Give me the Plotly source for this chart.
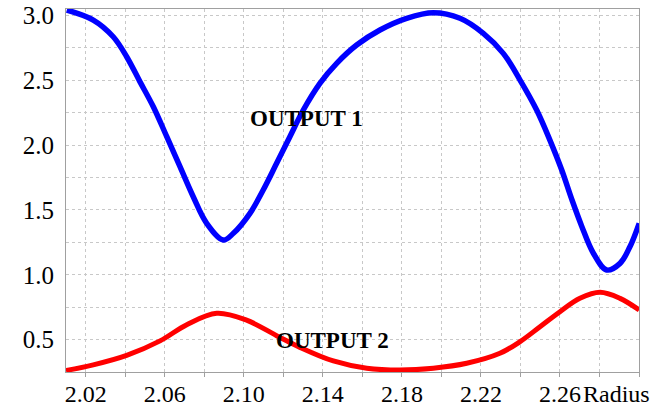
import plotly.graph_objects as go

# Data
radius_out1 = [2.0104, 2.0238, 2.0339, 2.0407, 2.0474, 2.0542, 2.0610, 2.0677, 2.0744, 2.0812,
               2.0896, 2.0947, 2.1031, 2.1098, 2.1166, 2.1233, 2.1301, 2.1385, 2.1470, 2.1571,
               2.1689, 2.1824, 2.1959, 2.2094, 2.2212, 2.2313, 2.2398, 2.2482, 2.2549, 2.2609,
               2.2659, 2.2710, 2.2769, 2.2836, 2.2904, 2.2954, 2.3001]
output1 = [3.042, 2.965, 2.836, 2.682, 2.490, 2.296, 2.065, 1.834, 1.602, 1.397,
           1.268, 1.320, 1.474, 1.654, 1.860, 2.065, 2.271, 2.477, 2.631, 2.772,
           2.888, 2.978, 3.021, 2.978, 2.862, 2.708, 2.502, 2.271, 2.039, 1.808,
           1.585, 1.375, 1.166, 1.037, 1.088, 1.216, 1.397]

radius_out2 = [2.0100, 2.0238, 2.0407, 2.0576, 2.0711, 2.0863, 2.1014, 2.1166, 2.1284, 2.1453,
               2.1622, 2.1790, 2.1959, 2.2128, 2.2296, 2.2398, 2.2499, 2.2600, 2.2701, 2.2803,
               2.2904, 2.3001]
output2 = [0.262, 0.305, 0.378, 0.490, 0.615, 0.703, 0.650, 0.530, 0.440, 0.335,
           0.279, 0.265, 0.279, 0.317, 0.394, 0.484, 0.599, 0.715, 0.818, 0.865,
           0.818, 0.728]

x_tick_vals = [2.02, 2.06, 2.10, 2.14, 2.18, 2.22, 2.26]
x_tick_text = ["2.02", "2.06", "2.10", "2.14", "2.18", "2.22", "2.26"]
y_tick_vals = [0.5, 1.0, 1.5, 2.0, 2.5, 3.0]
y_tick_text = ["0.5", "1.0", "1.5", "2.0", "2.5", "3.0"]

FONT = "Liberation Serif"
GRID = "#c8c8c8"

fig = go.Figure()
fig.add_trace(go.Scatter(x=radius_out1, y=output1, mode="lines",
                         line=dict(color="#0000ff", width=5.5, shape="spline", smoothing=1.0),
                         showlegend=False, hoverinfo="skip"))
fig.add_trace(go.Scatter(x=radius_out2, y=output2, mode="lines",
                         line=dict(color="#ff0000", width=5, shape="spline", smoothing=1.0),
                         showlegend=False, hoverinfo="skip"))

fig.update_layout(
    width=655, height=408,
    margin=dict(l=66, r=16, t=9, b=36, autoexpand=False),
    paper_bgcolor="white", plot_bgcolor="white",
    font=dict(family=FONT, size=25, color="black"),
    xaxis=dict(range=[2.01, 2.30], tickvals=x_tick_vals, ticktext=x_tick_text,
               automargin=False, tickfont=dict(family=FONT, size=24, color="black"),
               showgrid=True, gridcolor=GRID, griddash="dot", gridwidth=1,
               showline=True, linecolor="#a0a0a0", linewidth=1, mirror=True,
               ticks="outside", ticklen=4, tickcolor="#a0a0a0",
               minor=dict(dtick=0.02, tick0=2.0, showgrid=True, gridcolor=GRID, griddash="dot",
                          ticks="outside", ticklen=4, tickcolor="#a0a0a0"),
               zeroline=False, ticklabelstandoff=-4),
    yaxis=dict(range=[0.25, 3.05], tickvals=y_tick_vals, ticktext=y_tick_text,
               automargin=False,
               showgrid=True, gridcolor=GRID, griddash="dot", gridwidth=1,
               showline=True, linecolor="#a0a0a0", linewidth=1, mirror=True,
               ticks="",
               minor=dict(dtick=0.25, tick0=0.0, showgrid=True, gridcolor=GRID, griddash="dot"),
               zeroline=False, ticklabelstandoff=6),
    annotations=[
        dict(text="<b>OUTPUT 1</b>", x=(306 - 66) / 573, y=(372 - 118) / 363, xref="paper", yref="paper",
             showarrow=False, font=dict(family=FONT, size=23, color="black"),
             xanchor="center", yanchor="middle"),
        dict(text="<b>OUTPUT 2</b>", x=(332 - 66) / 573, y=(372 - 340) / 363, xref="paper", yref="paper",
             showarrow=False, font=dict(family=FONT, size=23, color="black"),
             xanchor="center", yanchor="middle"),
        dict(text="Radius", x=(581 - 66) / 573, y=0, xref="paper", yref="paper",
             showarrow=False, font=dict(family=FONT, size=24, color="black"),
             xanchor="left", yanchor="top", yshift=-7),
    ],
)

fig.write_html("out.html")
